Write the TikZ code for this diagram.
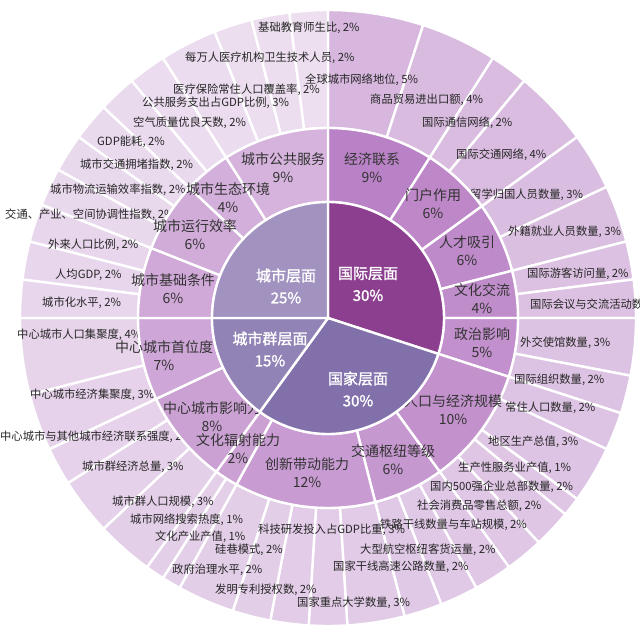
\documentclass[tikz,border=0pt]{standalone}
\usepackage{fontspec}
\setmainfont{Noto Sans CJK SC}[AutoFakeBold=1.5]
\usetikzlibrary{calc}
\definecolor{leafbase}{HTML}{A560B5}
\definecolor{midbase}{HTML}{A963B8}
\definecolor{cInt}{HTML}{8C3F8E}
\definecolor{cNat}{HTML}{8170AA}
\definecolor{cReg}{HTML}{9283B6}
\definecolor{cCity}{HTML}{A192BF}
\newcommand\sect[5]{\filldraw[fill=#5,draw=white,line width=2.4pt] ($(C)+(#3:#1)$) arc[start angle=#3,end angle=#4,radius=#1] -- ($(C)+(#4:#2)$) arc[start angle=#4,end angle=#3,radius=#2] -- cycle;}
\tikzset{
 leaf/.style={font=\fontsize{11.3}{13}\selectfont, text=black!85, anchor=west, inner sep=0pt},
 mid/.style={font=\fontsize{14}{18}\selectfont, text=black!80, align=center, inner sep=0pt},
 inn/.style={font=\bfseries\fontsize{15}{22}\selectfont, text=white, align=center, inner sep=0pt}
}
\begin{document}
\begin{tikzpicture}[x=1pt,y=1pt]
\useasboundingbox (0,0) rectangle (640,-641);
\coordinate (C) at (328,-318);
% outer ring
\foreach \s/\e in {0/5,5/9,9/11,11/15,15/18,18/21,21/23,23/25,25/28,28/30,
  30/32,32/35,35/36,36/38,38/40,40/42,42/44,44/46,46/49,49/51,51/53,53/55,55/58,58/59,59/60,
  60/63,63/66,66/68,68/71,71/75,
  75/77,77/79,79/81,81/83,83/85,85/87,87/89,89/91,91/94,94/96,96/98,98/100}{
  \pgfmathsetmacro\aa{90-3.6*\s}\pgfmathsetmacro\bb{90-3.6*\e}
  \pgfmathtruncatemacro\q{45-0.25*\s}
  \sect{190pt}{308pt}{\aa}{\bb}{leafbase!\q!white}
}
% leaf labels
\foreach \x/\y/\t [count=\i] in {
 305/80/{全球城市网络地位, 5\%}, 370/100/{商品贸易进出口额, 4\%}, 422/123/{国际通信网络, 2\%},
 456/155/{国际交通网络, 4\%}, 470/195/{留学归国人员数量, 3\%}, 508/232/{外籍就业人员数量, 3\%},
 527/274/{国际游客访问量, 2\%}, 530/305/{国际会议与交流活动数量, 2\%}, 520/343/{外交使馆数量, 3\%},
 514/380/{国际组织数量, 2\%}, 505/408/{常住人口数量, 2\%}, 488/442/{地区生产总值, 3\%},
 458/468/{生产性服务业产值, 1\%}, 430/487/{国内500强企业总部数量, 2\%}, 417/506/{社会消费品零售总额, 2\%},
 258/530/{科技研发投入占GDP比重, 3\%}, 380/525/{铁路干线数量与车站规模, 2\%}, 360/550/{大型航空枢纽客货运量, 2\%},
 333/567/{国家干线高速公路数量, 2\%}, 297/603/{国家重点大学数量, 3\%}, 215/590/{发明专利授权数, 2\%},
 172/570/{政府治理水平, 2\%}, 215/550/{硅巷模式, 2\%}, 155/537/{文化产业产值, 1\%},
 130/520/{城市网络搜索热度, 1\%}, 112/502/{城市群人口规模, 3\%}, 82/467/{城市群经济总量, 3\%},
 0/437/{中心城市与其他城市经济联系强度, 2\%}, 30/395/{中心城市经济集聚度, 3\%}, 17/335/{中心城市人口集聚度, 4\%},
 42/303/{城市化水平, 2\%}, 55/275/{人均GDP, 2\%}, 48/245/{外来人口比例, 2\%},
 5/215/{交通、产业、空间协调性指数, 2\%}, 50/190/{城市物流运输效率指数, 2\%}, 80/165/{城市交通拥堵指数, 2\%},
 97/142/{GDP能耗, 2\%}, 133/123/{空气质量优良天数, 2\%}, 142/103/{公共服务支出占GDP比例, 3\%},
 173/90/{医疗保险常住人口覆盖率, 2\%}, 185/58/{每万人医疗机构卫生技术人员, 2\%}, 258/28/{基础教育师生比, 2\%}}{
  \node[leaf] (L\i) at (\x,-\y) {\t};
}
% middle ring
\foreach \s/\e in {0/9,9/15,15/21,21/25,25/30,30/40,40/46,46/58,58/60,60/68,68/75,75/81,81/87,87/91,91/100}{
  \pgfmathsetmacro\aa{90-3.6*\s}\pgfmathsetmacro\bb{90-3.6*\e}
  \pgfmathtruncatemacro\q{80-0.33*\s}
  \sect{116pt}{190pt}{\aa}{\bb}{midbase!\q!white}
}
\foreach \x/\y/\t [count=\i] in {
 372/168/{经济联系\\9\%}, 433/204/{门户作用\\6\%}, 467/251/{人才吸引\\6\%}, 482/299/{文化交流\\4\%},
 482/343/{政治影响\\5\%}, 453/410/{人口与经济规模\\10\%}, 393/460/{交通枢纽等级\\6\%},
 307/473/{创新带动能力\\12\%}, 238/449/{文化辐射能力\\2\%}, 212/417/{中心城市影响力\\8\%},
 164/356/{中心城市首位度\\7\%}, 173/289/{城市基础条件\\6\%}, 195/235/{城市运行效率\\6\%},
 228/198/{城市生态环境\\4\%}, 283/168/{城市公共服务\\9\%}}{
  \node[mid] (M\i) at (\x,-\y) {\t};
}
% inner ring
\sect{0pt}{116pt}{90}{-18}{cInt}
\sect{0pt}{116pt}{-18}{-126}{cNat}
\sect{0pt}{116pt}{-126}{-180}{cReg}
\sect{0pt}{116pt}{-180}{-270}{cCity}
\node[inn] (I1) at (368,-284) {国际层面\\30\%};
\node[inn] (I2) at (358,-389) {国家层面\\30\%};
\node[inn] (I3) at (270,-349) {城市群层面\\15\%};
\node[inn] (I4) at (286,-286) {城市层面\\25\%};
\end{tikzpicture}
\end{document}
